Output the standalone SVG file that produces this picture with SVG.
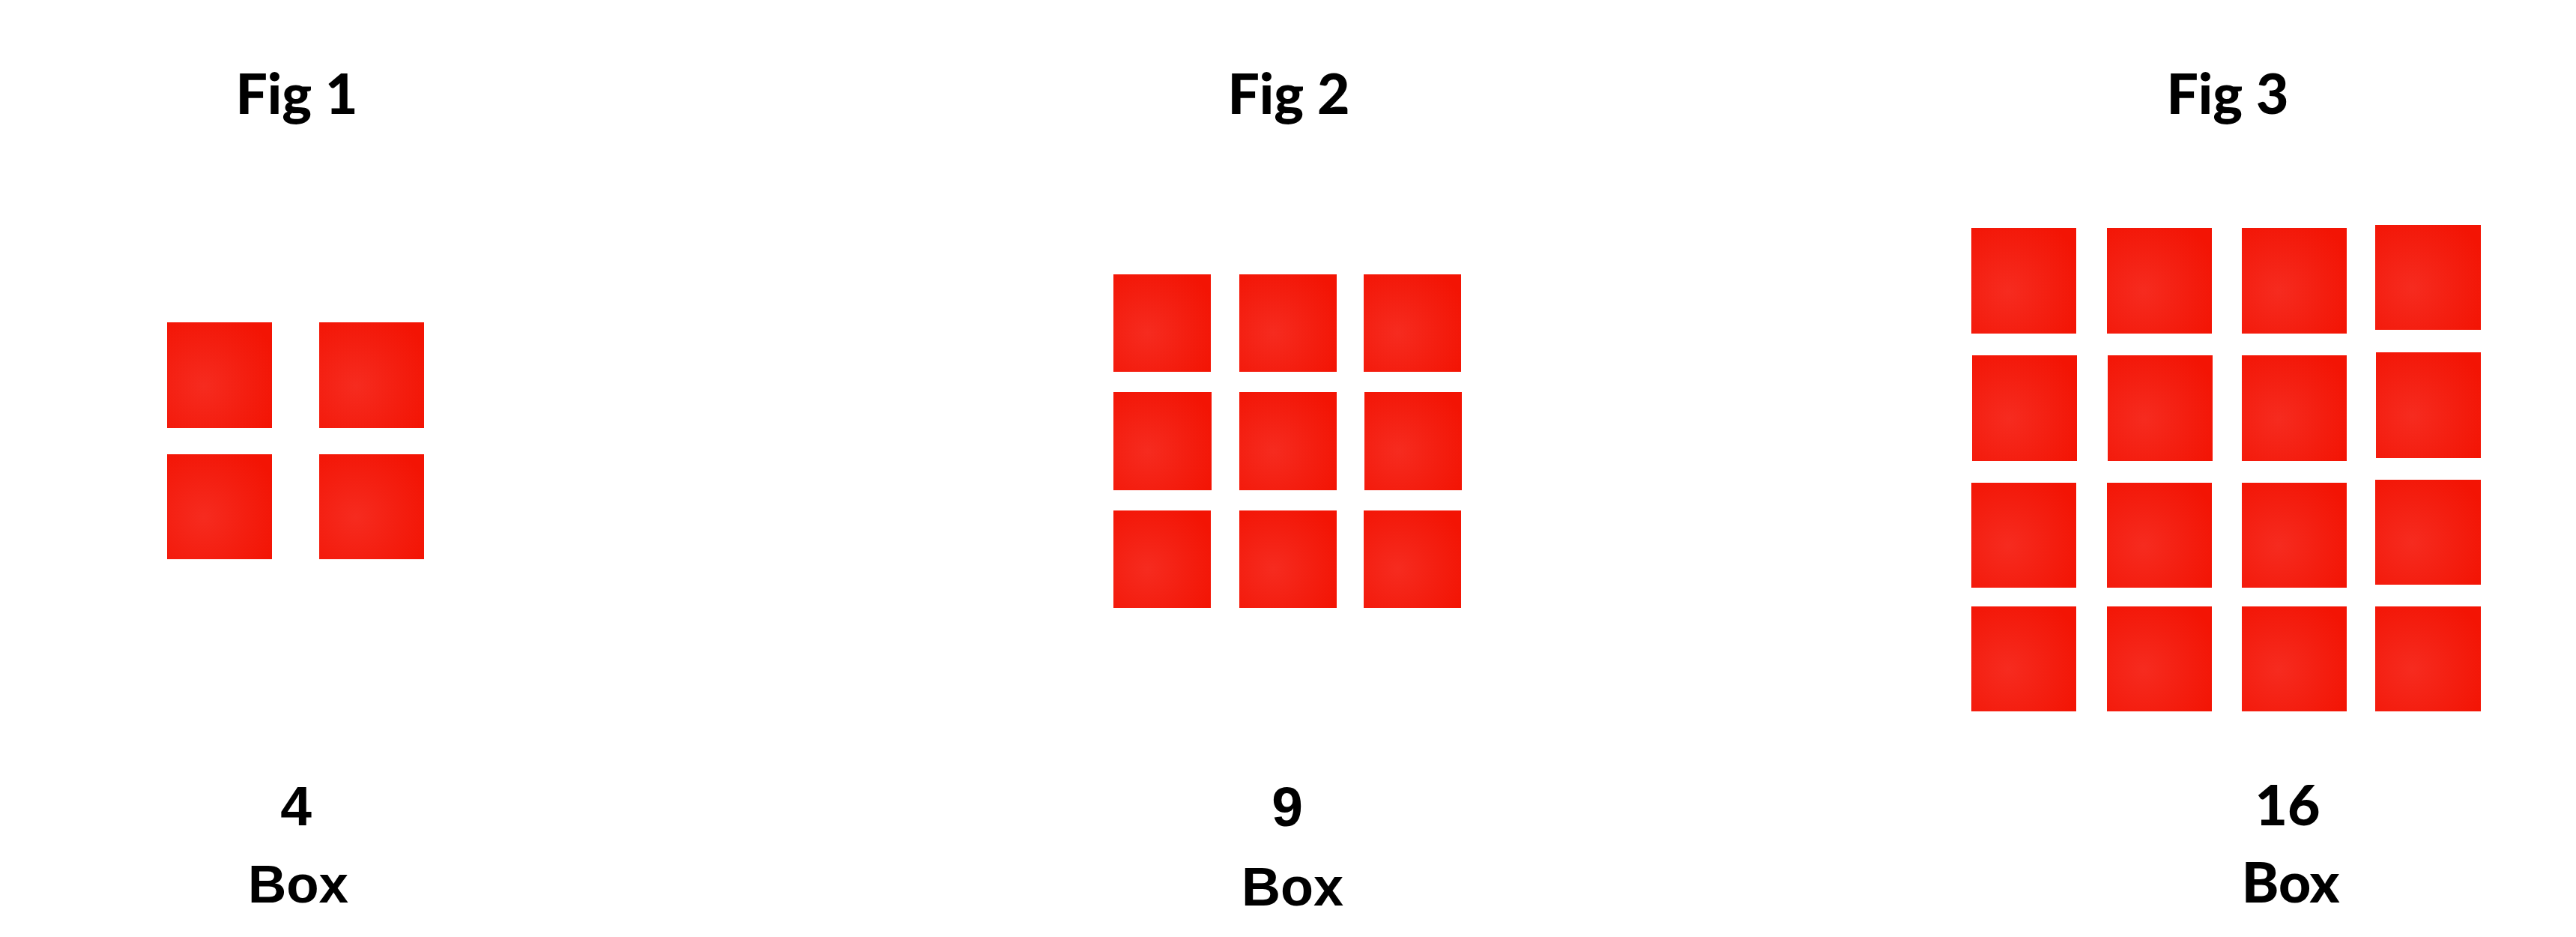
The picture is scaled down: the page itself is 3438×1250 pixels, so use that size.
<svg xmlns="http://www.w3.org/2000/svg" width="3438" height="1250" viewBox="0 0 3438 1250">
<defs>
<radialGradient id="tex" cx="0.35" cy="0.6" r="0.75">
<stop offset="0" stop-color="#f62b1f"/>
<stop offset="0.55" stop-color="#f41e10"/>
<stop offset="1" stop-color="#f31404"/>
</radialGradient>
</defs>
<style>
.b{fill:url(#tex);}
.t{font-family:Lato,"Open Sans",sans-serif;font-weight:900;font-size:75px;fill:#000;text-anchor:middle;}
.num{font-family:"Liberation Sans",Arial,sans-serif;font-weight:700;fill:#000;text-anchor:middle;}
</style>
<rect width="3438" height="1250" fill="#fff"/>

<g id="fig1">
<text class="t" x="396" y="152">Fig 1</text>
<rect class="b" x="223" y="430" width="140" height="141"/>
<rect class="b" x="426" y="430" width="140" height="141"/>
<rect class="b" x="223" y="606" width="140" height="140"/>
<rect class="b" x="426" y="606" width="140" height="140"/>
<text class="num" x="395" y="1101" font-size="75">4</text>
<text class="num" x="398" y="1204" font-size="71">Box</text>
</g>

<g id="fig2">
<text class="t" x="1720" y="152">Fig 2</text>
<rect class="b" x="1486" y="366" width="130" height="130"/>
<rect class="b" x="1654" y="366" width="130" height="130"/>
<rect class="b" x="1820" y="366" width="130" height="130"/>
<rect class="b" x="1486" y="523" width="131" height="131"/>
<rect class="b" x="1654" y="523" width="130" height="131"/>
<rect class="b" x="1821" y="523" width="130" height="131"/>
<rect class="b" x="1486" y="681" width="130" height="130"/>
<rect class="b" x="1654" y="681" width="130" height="130"/>
<rect class="b" x="1820" y="681" width="130" height="130"/>
<text class="num" x="1718" y="1102" font-size="75">9</text>
<text class="num" x="1725" y="1208" font-size="72">Box</text>
</g>

<g id="fig3">
<text class="t" x="2973" y="152">Fig 3</text>
<rect class="b" x="2631" y="304" width="140" height="141"/>
<rect class="b" x="2812" y="304" width="140" height="141"/>
<rect class="b" x="2992" y="304" width="140" height="141"/>
<rect class="b" x="3170" y="300" width="141" height="140"/>
<rect class="b" x="2632" y="474" width="140" height="141"/>
<rect class="b" x="2813" y="474" width="140" height="141"/>
<rect class="b" x="2992" y="474" width="140" height="141"/>
<rect class="b" x="3171" y="470" width="140" height="141"/>
<rect class="b" x="2631" y="644" width="140" height="140"/>
<rect class="b" x="2812" y="644" width="140" height="140"/>
<rect class="b" x="2992" y="644" width="140" height="140"/>
<rect class="b" x="3170" y="640" width="141" height="140"/>
<rect class="b" x="2631" y="809" width="140" height="140"/>
<rect class="b" x="2812" y="809" width="140" height="140"/>
<rect class="b" x="2992" y="809" width="140" height="140"/>
<rect class="b" x="3170" y="809" width="141" height="140"/>
<text class="t" x="3053" y="1101">16</text>
<text class="t" x="3057" y="1204" font-size="71">Box</text>
</g>

<g id="connectors"/>
</svg>
